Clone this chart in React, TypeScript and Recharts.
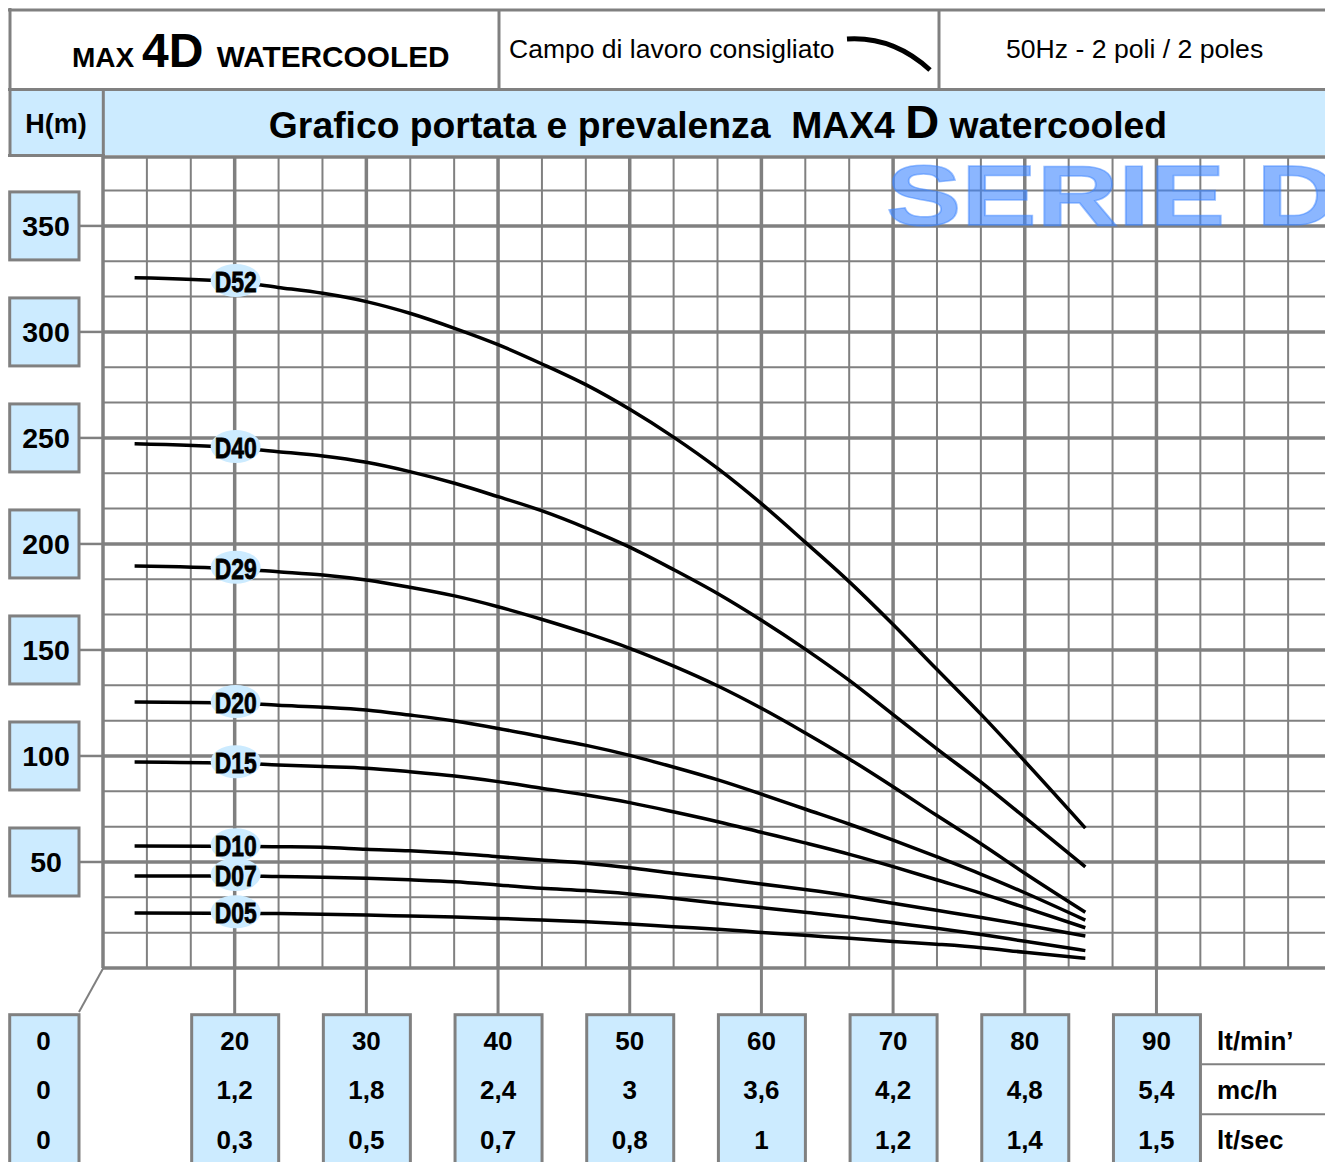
import React from 'react';
import { ComposedChart, Line, XAxis, YAxis, ReferenceLine } from 'recharts';

// flow rate (lt/min) sample positions shared by all curves
const flow = [12.4, 20, 23.3, 26.7, 30, 33.3, 36.7, 40, 43.3, 46.7, 50, 53.3, 56.7, 60, 63.3, 66.7, 70, 73.3, 76.7, 80, 84.6];

const d52 = [325.5, 323.6, 321, 318.2, 314.3, 308.8, 301.7, 294, 285, 275, 263.5, 250.5, 235.5, 219, 201, 182, 162, 141, 119.5, 97.5, 66];
const d40 = [247.2, 245.3, 243.5, 241.5, 238.5, 234.1, 228.6, 222.3, 215.7, 207.5, 198.5, 188, 176.5, 164, 150.5, 135.5, 119.5, 103.5, 87.5, 71, 47.7];
const d29 = [189.6, 188.3, 186.9, 185.4, 183, 179.6, 175.5, 170.4, 164.5, 157.9, 150.8, 142.5, 133, 122.5, 111, 98.5, 85.5, 72, 58.5, 44.7, 26.3];
const d20 = [125.5, 125, 123.9, 123, 121.7, 119.3, 116.5, 113, 109.1, 105, 100.3, 94.8, 88.7, 82, 75, 67.8, 60.3, 52.5, 44.2, 35.5, 22.6];
const d15 = [97.2, 96.6, 95.8, 95, 94.2, 92.6, 90.6, 87.9, 84.8, 81.6, 78, 73.7, 69, 64, 59, 53.6, 47.8, 41.6, 35.2, 28.5, 19];
const d10 = [57.5, 57.4, 57.2, 56.9, 56, 55.3, 54.1, 52.5, 50.9, 49.4, 47.3, 44.7, 42.3, 39.6, 37, 34, 30.5, 27.2, 23.8, 20.3, 15.1];
const d07 = [43.4, 43.4, 43.1, 42.8, 42.3, 41.6, 40.7, 39.2, 37.6, 36.5, 34.9, 32.9, 30.5, 28.5, 26.3, 24, 21.3, 18.7, 15.8, 12.6, 8.2];
const d05 = [25.9, 25.8, 25.7, 25.4, 25, 24.5, 24, 23.4, 22.6, 21.8, 20.8, 19.5, 18.3, 16.8, 15.4, 14, 12.5, 11.2, 9.6, 7.4, 4.6];

const seriesNames = ['D52', 'D40', 'D29', 'D20', 'D15', 'D10', 'D07', 'D05'];
const seriesValues = [d52, d40, d29, d20, d15, d10, d07, d05];
const labelFlow = 20;

const headTicks = [50, 100, 150, 200, 250, 300, 350];
const flowTicks = [20, 30, 40, 50, 60, 70, 80, 90];
const mchLabels = ['1,2', '1,8', '2,4', '3', '3,6', '4,2', '4,8', '5,4'];
const lpsLabels = ['0,3', '0,5', '0,7', '0,8', '1', '1,2', '1,4', '1,5'];
const unitLabels = ['lt/min\u2019', 'mc/h', 'lt/sec'];

const X_DOMAIN: [number, number] = [10, 102.8];
const Y_DOMAIN: [number, number] = [0, 382.5];
const minorX = Array.from({ length: 28 }, (_, i) => 10 + ((i + 1) * 10) / 3).filter((v) => v < 102.8);
const minorY = Array.from({ length: 22 }, (_, i) => ((i + 1) * 50) / 3).filter((v) => v < 382);
const majorX = [10, 20, 30, 40, 50, 60, 70, 80, 90];
const majorY = [0, 50, 100, 150, 200, 250, 300, 350, 382.5];

const GRID = '#808080';
const BLUE = '#CCEBFF';
const FONT = "'Liberation Sans', Arial, Helvetica, sans-serif";

const PLOT_BOTTOM = 968;

const YTick = (props: any) => {
  const { y, payload } = props;
  return (
    <g>
      <line x1={80} x2={103} y1={y} y2={y} stroke={GRID} strokeWidth={2.5} />
      <rect x={9.7} y={y - 34} width={69.3} height={68} fill={BLUE} stroke={GRID} strokeWidth={3} />
      <text x={46} y={y + 10} textAnchor="middle" fontFamily={FONT} fontWeight="bold" fontSize={28.5} fill="#000">
        {payload.value}
      </text>
    </g>
  );
};

const XTick = (props: any) => {
  const { x, payload } = props;
  const i = flowTicks.indexOf(payload.value);
  return (
    <g>
      <line x1={x} x2={x} y1={PLOT_BOTTOM} y2={1014} stroke={GRID} strokeWidth={3} />
      <rect x={x - 43} y={1014.7} width={87} height={170} fill={BLUE} stroke={GRID} strokeWidth={3} />
      <text x={x} y={1049.5} textAnchor="middle" fontFamily={FONT} fontWeight="bold" fontSize={26} fill="#000">
        {payload.value}
      </text>
      <text x={x} y={1099.3} textAnchor="middle" fontFamily={FONT} fontWeight="bold" fontSize={26} fill="#000">
        {mchLabels[i]}
      </text>
      <text x={x} y={1149.3} textAnchor="middle" fontFamily={FONT} fontWeight="bold" fontSize={26} fill="#000">
        {lpsLabels[i]}
      </text>
    </g>
  );
};

const CurveLabel = (props: any) => {
  const { cx, cy, payload } = props;
  if (cx == null || cy == null) return <g />;
  return (
    <g>
      <ellipse cx={cx + 1} cy={cy - 1.5} rx={25} ry={16.5} fill={BLUE} />
      <text
        x={cx + 1}
        y={cy + 10}
        textAnchor="middle"
        fontFamily={FONT}
        fontWeight="bold"
        fontSize={29}
        fill="#000"
        stroke="#000"
        strokeWidth={0.8}
        textLength={42}
        lengthAdjust="spacingAndGlyphs"
      >
        {payload.name}
      </text>
    </g>
  );
};

export default function App() {
  const series = seriesValues.map((vals) => flow.map((x, i) => ({ x, y: vals[i] })));
  const labels = seriesValues.map((vals, k) => ({ x: labelFlow, y: vals[flow.indexOf(labelFlow)], name: seriesNames[k] }));

  return (
    <div style={{ position: 'absolute', left: 0, top: 0, width: 1325, height: 1162, background: '#fff', overflow: 'hidden' }}>
      <div style={{ position: 'absolute', left: 0, top: 0 }}>
        <ComposedChart width={1325} height={1162} margin={{ top: 157, left: 80, right: 0, bottom: 149 }}>
          <XAxis
            xAxisId="q"
            type="number"
            dataKey="x"
            domain={X_DOMAIN}
            allowDataOverflow
            ticks={flowTicks}
            interval={0}
            height={45}
            axisLine={false}
            tickLine={false}
            tick={<XTick />}
          />
          <YAxis
            yAxisId="h"
            type="number"
            dataKey="y"
            domain={Y_DOMAIN}
            allowDataOverflow
            ticks={headTicks}
            interval={0}
            width={23}
            axisLine={false}
            tickLine={false}
            tick={<YTick />}
          />
          {minorX.map((v) => (
            <ReferenceLine key={'mx' + v} x={v} xAxisId="q" yAxisId="h" stroke={GRID} strokeWidth={2} />
          ))}
          {minorY.map((v) => (
            <ReferenceLine key={'my' + v} y={v} xAxisId="q" yAxisId="h" stroke={GRID} strokeWidth={2} />
          ))}
          {majorX.map((v) => (
            <ReferenceLine key={'Mx' + v} x={v} xAxisId="q" yAxisId="h" stroke={GRID} strokeWidth={3.5} ifOverflow="visible" />
          ))}
          {majorY.map((v) => (
            <ReferenceLine key={'My' + v} y={v} xAxisId="q" yAxisId="h" stroke={GRID} strokeWidth={3.5} ifOverflow="visible" />
          ))}
          {series.map((data, k) => (
            <Line
              key={seriesNames[k]}
              data={data}
              xAxisId="q"
              yAxisId="h"
              dataKey="y"
              type="monotone"
              stroke="#000"
              strokeWidth={3.5}
              dot={false}
              activeDot={false}
              isAnimationActive={false}
            />
          ))}
          <Line
            data={labels}
            xAxisId="q"
            yAxisId="h"
            dataKey="y"
            stroke="none"
            strokeWidth={0}
            dot={<CurveLabel />}
            activeDot={false}
            isAnimationActive={false}
          />
        </ComposedChart>
      </div>
      <svg
        width={1325}
        height={1162}
        style={{ position: 'absolute', left: 0, top: 0, pointerEvents: 'none' }}
      >
        {/* header */}
        <rect x={11} y={91} width={1314} height={64} fill={BLUE} />
        <line x1={8} x2={1325} y1={10} y2={10} stroke={GRID} strokeWidth={3} />
        <line x1={10} x2={10} y1={8} y2={157} stroke={GRID} strokeWidth={3} />
        <line x1={8} x2={1325} y1={89.5} y2={89.5} stroke={GRID} strokeWidth={3} />
        <line x1={499} x2={499} y1={10} y2={89} stroke={GRID} strokeWidth={3} />
        <line x1={939} x2={939} y1={10} y2={89} stroke={GRID} strokeWidth={3} />
        <line x1={103.3} x2={103.3} y1={89} y2={157} stroke={GRID} strokeWidth={3} />
        <line x1={8} x2={105} y1={155.5} y2={155.5} stroke={GRID} strokeWidth={3} />

        <text x={72} y={67} fontFamily={FONT} fontWeight="bold" fill="#000" xmlSpace="preserve">
          <tspan fontSize={28}>MAX </tspan>
          <tspan fontSize={48}>4D </tspan>
          <tspan fontSize={29.8}>WATERCOOLED</tspan>
        </text>
        <text x={509} y={58} fontFamily={FONT} fontSize={26.5} fill="#000">
          Campo di lavoro consigliato
        </text>
        <path d="M847,39 C878,37 905,47 930,70" fill="none" stroke="#000" strokeWidth={5} />
        <text x={1006} y={58} fontFamily={FONT} fontSize={26.6} fill="#000">
          50Hz - 2 poli / 2 poles
        </text>

        <text x={56} y={133} textAnchor="middle" fontFamily={FONT} fontWeight="bold" fontSize={27} fill="#000">
          H(m)
        </text>
        <text x={718} y={138} textAnchor="middle" fontFamily={FONT} fontWeight="bold" fill="#000" xmlSpace="preserve">
          <tspan fontSize={37.3}>{'Grafico portata e prevalenza  MAX4 '}</tspan>
          <tspan fontSize={47}>D</tspan>
          <tspan fontSize={37.3}>{' watercooled'}</tspan>
        </text>

        {/* watermark */}
        <text
          x={886}
          y={225}
          fontFamily={FONT}
          fontWeight="bold"
          fontSize={86}
          fill="#3d85ff"
          fillOpacity={0.6}
          stroke="#3d85ff"
          strokeOpacity={0.5}
          strokeWidth={1.5}
          textLength={452}
          lengthAdjust="spacingAndGlyphs"
        >
          SERIE D
        </text>

        {/* zero flow label box */}
        <line x1={79} y1={1012} x2={103.3} y2={968} stroke={GRID} strokeWidth={2} />
        <rect x={9.7} y={1014.7} width={69.3} height={170} fill={BLUE} stroke={GRID} strokeWidth={3} />
        {['0', '0', '0'].map((t, i) => (
          <text key={i} x={43.5} y={1049.5 + i * 49.9} textAnchor="middle" fontFamily={FONT} fontWeight="bold" fontSize={26} fill="#000">
            {t}
          </text>
        ))}

        {/* unit labels */}
        <line x1={1202} x2={1325} y1={1064.3} y2={1064.3} stroke={GRID} strokeWidth={2} />
        <line x1={1202} x2={1325} y1={1114.3} y2={1114.3} stroke={GRID} strokeWidth={2} />
        {unitLabels.map((t, i) => (
          <text key={t} x={1217} y={1049.5 + i * 49.9} fontFamily={FONT} fontWeight="bold" fontSize={26} fill="#000">
            {t}
          </text>
        ))}
      </svg>
    </div>
  );
}
